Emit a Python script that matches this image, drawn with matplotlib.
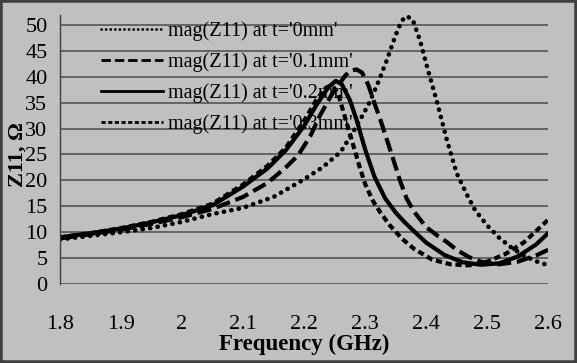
import matplotlib

matplotlib.use("Agg")

import matplotlib.pyplot as plt
from matplotlib.patches import Rectangle

# mag(Z11) at t='0mm'  (dotted)
freq_0 = [1.80, 1.85, 1.90, 1.95, 2.00, 2.05, 2.10, 2.15, 2.20, 2.23, 2.26, 2.275,
          2.29, 2.305, 2.32, 2.335, 2.35, 2.36, 2.368, 2.378, 2.39, 2.403, 2.417,
          2.434, 2.45, 2.467, 2.48, 2.50, 2.52, 2.54, 2.56, 2.58, 2.60]
z_0 = [8.6, 9.3, 10.0, 10.8, 12.0, 13.5, 14.7, 16.8, 20.2, 22.5, 25.5, 28.3,
       31.3, 34.5, 38.5, 43.0, 48.0, 50.8, 51.7, 51.0, 47.0, 41.3, 35.5,
       27.8, 21.4, 17.2, 14.3, 11.3, 8.9, 7.0, 5.5, 4.4, 3.6]

# mag(Z11) at t='0.1mm'  (long dash)
freq_1 = [1.80, 1.85, 1.90, 1.95, 2.00, 2.05, 2.10, 2.14, 2.17, 2.19, 2.21, 2.226,
          2.245, 2.256, 2.268, 2.278, 2.286, 2.295, 2.305, 2.315, 2.325, 2.345,
          2.357, 2.368, 2.38, 2.40, 2.42, 2.434, 2.45, 2.47, 2.49, 2.52, 2.55,
          2.58, 2.60]
z_1 = [8.8, 9.6, 10.5, 11.6, 12.9, 14.5, 16.8, 19.5, 22.5, 24.8, 28.5, 32.5,
       36.5, 38.3, 40.3, 41.2, 41.4, 40.8, 38.5, 35.0, 31.7, 24.5,
       20.0, 16.5, 14.0, 11.0, 9.2, 8.1, 6.6, 5.2, 4.3, 3.8, 4.3,
       5.5, 6.6]

# mag(Z11) at t='0.2mm'  (solid)
freq_2 = [1.80, 1.85, 1.90, 1.95, 2.00, 2.05, 2.10, 2.14, 2.17, 2.20, 2.22, 2.24,
          2.252, 2.262, 2.275, 2.286, 2.30, 2.315, 2.333, 2.35, 2.365, 2.38, 2.40,
          2.43, 2.46, 2.49, 2.52, 2.55, 2.58, 2.60]
z_2 = [9.0, 9.8, 10.7, 11.9, 13.3, 15.2, 18.8, 22.3, 25.8, 30.5, 34.5, 38.0,
       39.2, 38.5, 35.5, 31.7, 26.0, 20.8, 16.5, 13.8, 11.9, 10.2, 8.0,
       5.6, 4.2, 3.7, 4.0, 5.3, 7.6, 9.8]

# mag(Z11) at t='0.3mm'  (short dash)
freq_3 = [1.80, 1.85, 1.90, 1.95, 2.00, 2.05, 2.10, 2.14, 2.17, 2.20, 2.22, 2.235,
          2.245, 2.255, 2.265, 2.275, 2.29, 2.30, 2.313, 2.325, 2.34, 2.36, 2.38,
          2.41, 2.44, 2.47, 2.50, 2.53, 2.56, 2.60]
z_3 = [9.0, 9.8, 10.8, 12.0, 13.5, 15.5, 19.2, 22.8, 26.3, 31.5, 35.5, 37.8,
       38.4, 37.0, 33.0, 29.0, 23.0, 19.3, 16.0, 13.8, 11.4, 8.8, 6.8,
       4.7, 3.8, 3.6, 4.3, 5.8, 8.0, 12.4]

labels = ["mag(Z11) at t='0mm'", "mag(Z11) at t='0.1mm'",
          "mag(Z11) at t='0.2mm'", "mag(Z11) at t='0.3mm'"]
x_ticks = [1.8, 1.9, 2.0, 2.1, 2.2, 2.3, 2.4, 2.5, 2.6]
x_tick_labels = ["1.8", "1.9", "2", "2.1", "2.2", "2.3", "2.4", "2.5", "2.6"]
y_ticks = [0, 5, 10, 15, 20, 25, 30, 35, 40, 45, 50]

plt.rcParams["font.family"] = ["Liberation Serif", "DejaVu Serif"]

bg = "#c0c0c0"
fig = plt.figure(figsize=(5.77, 3.63), dpi=100, facecolor=bg)
ax = fig.add_axes([0.104, 0.2176, 0.846, 0.7424])
ax.set_facecolor(bg)

lw = 3.0
ax.plot(freq_0, z_0, color="black", lw=3.3, linestyle=(0, (0.05, 1.6)),
        dash_capstyle="round", label=labels[0])
ax.plot(freq_1, z_1, color="black", lw=lw, linestyle=(0, (3.4, 1.4)), label=labels[1])
ax.plot(freq_2, z_2, color="black", lw=lw, linestyle="-", label=labels[2])
ax.plot(freq_3, z_3, color="black", lw=lw, linestyle=(0, (1.5, 0.9)), label=labels[3])

ax.set_xlim(1.8, 2.6)
ax.set_ylim(0, 52)
ax.set_xticks(x_ticks)
ax.set_xticklabels(x_tick_labels)
ax.set_yticks(y_ticks)
ax.tick_params(axis="both", length=0, labelsize=16, colors="black")
ax.tick_params(axis="x", pad=22)
ax.tick_params(axis="y", pad=9)

for v in y_ticks:
    ax.axhline(v, color="#555555", lw=1.2, zorder=0)
for side in ["top", "right", "bottom"]:
    ax.spines[side].set_visible(False)
ax.spines["left"].set_color("#404040")
ax.spines["left"].set_linewidth(1.0)

ax.set_xlabel("Frequency (GHz)", fontsize=16.5, fontweight="bold", labelpad=0)
fig.text(0.03, 0.573, "Z11, \u03a9", rotation=90, fontsize=16, fontweight="bold",
         ha="center", va="center")

leg = ax.legend(loc="upper left", bbox_to_anchor=(0.083, 0.975), frameon=False,
                fontsize=14.5, handlelength=3.1, handletextpad=0.25,
                labelspacing=0.56, borderpad=0, borderaxespad=0)
for line in leg.get_lines():
    line.set_linewidth(2.0)

fig.patches.append(Rectangle((0, 0), 1, 1, transform=fig.transFigure, fill=False,
                             edgecolor="#404040", linewidth=4))

fig.savefig("out.png", dpi=100, facecolor=bg)
